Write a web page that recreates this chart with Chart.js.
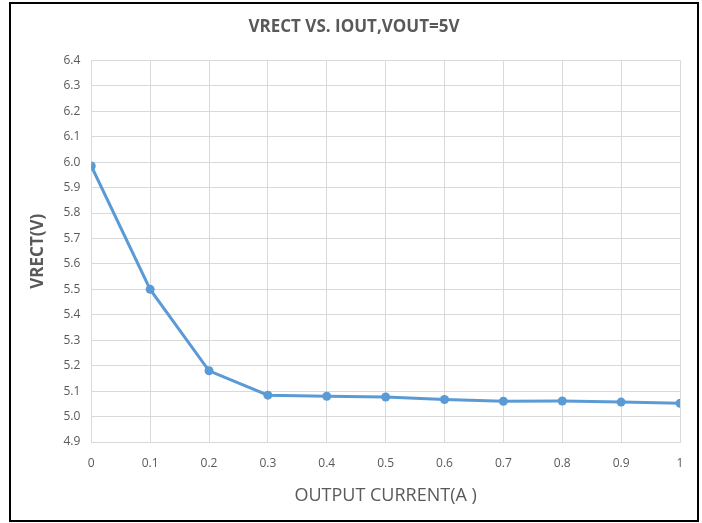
<!DOCTYPE html>
<html>
<head>
<meta charset="utf-8">
<script src="https://cdn.jsdelivr.net/npm/chart.js@4/dist/chart.umd.min.js"></script>
<style>
  html, body { margin: 0; padding: 0; background: #fff; }
  #wrap { position: relative; width: 702px; height: 523px; }
  #frame { position: absolute; left: 9px; top: 2px; width: 686px; height: 516px; border: 2px solid #000; box-sizing: content-box; pointer-events: none; }
  canvas { position: absolute; left: 0; top: 0; }
</style>
</head>
<body>
<div id="wrap">
  <canvas id="c" width="702" height="523"></canvas>
  <div id="frame"></div>
</div>
<script>
const currents = [0, 0.1, 0.2, 0.3, 0.4, 0.5, 0.6, 0.7, 0.8, 0.9, 1.0];
const vrect = [5.985, 5.50, 5.180, 5.084, 5.080, 5.077, 5.067, 5.060, 5.061, 5.057, 5.052];
const chartTitle = 'VRECT VS. IOUT,VOUT=5V';
const xTitle = 'OUTPUT CURRENT(A )';
const yTitle = 'VRECT(V)';

const fontFam = "'Open Sans', sans-serif";
const grey = '#595959';

new Chart(document.getElementById('c'), {
  type: 'line',
  data: {
    datasets: [{
      data: currents.map((x, i) => ({ x: x, y: vrect[i] })),
      borderColor: '#5B9BD5',
      backgroundColor: '#5B9BD5',
      borderWidth: 3,
      pointRadius: 4.5,
      pointBorderWidth: 0,
      tension: 0
    }]
  },
  options: {
    responsive: false,
    animation: false,
    layout: { padding: { left: 28, right: 22, top: 10, bottom: 16 } },
    plugins: {
      legend: { display: false },
      tooltip: { enabled: false },
      title: {
        display: true,
        text: chartTitle,
        color: grey,
        font: { family: fontFam, size: 17, weight: 'bold' },
        padding: { top: 7, bottom: 23 }
      }
    },
    scales: {
      x: {
        type: 'linear',
        min: 0, max: 1,
        ticks: {
          stepSize: 0.1,
          color: grey,
          font: { family: fontFam, size: 12 },
          padding: 14,
          callback: v => String(Math.round(v * 10) / 10)
        },
        grid: { color: '#d9d9d9', lineWidth: 1, drawTicks: false },
        border: { color: '#d9d9d9' },
        title: {
          display: true, text: xTitle, color: grey,
          font: { family: fontFam, size: 18 },
          padding: { top: 1, bottom: 0 }
        }
      },
      y: {
        min: 4.9, max: 6.4,
        ticks: {
          stepSize: 0.1,
          color: grey,
          font: { family: fontFam, size: 12 },
          padding: 11,
          callback: v => v.toFixed(1)
        },
        grid: { color: '#d9d9d9', lineWidth: 1, drawTicks: false },
        border: { display: false },
        title: {
          display: true, text: yTitle, color: grey,
          font: { family: fontFam, size: 17, weight: 'bold' },
          padding: { top: 0, bottom: 4 }
        }
      }
    }
  }
});
</script>
</body>
</html>
